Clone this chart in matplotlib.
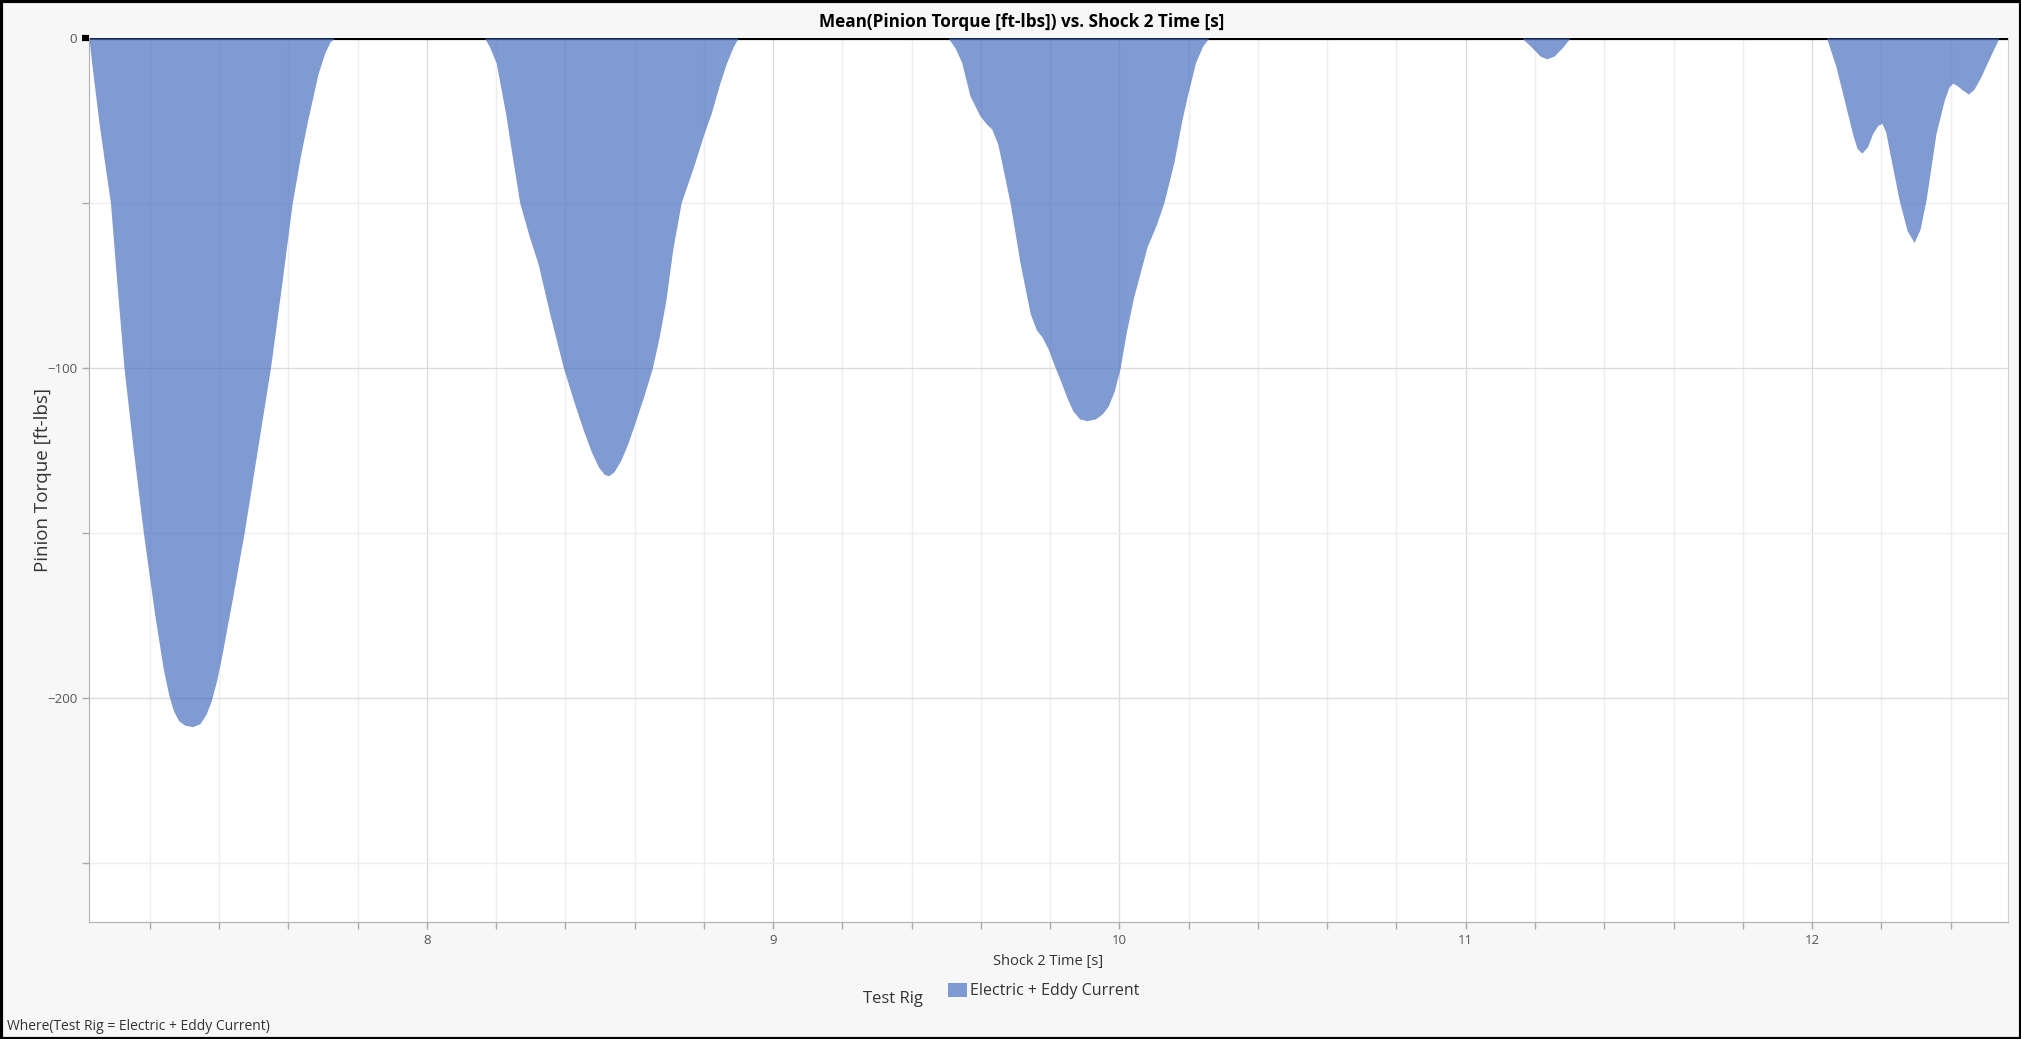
import numpy as np
import matplotlib
matplotlib.use('Agg')
import matplotlib.pyplot as plt
from matplotlib.patches import Patch, Rectangle

plt.rcParams['font.family'] = ['Open Sans', 'DejaVu Sans']

# values (Shock 2 Time [s], Mean Pinion Torque [ft-lbs])
time_s = [
    7.024, 7.030, 7.038, 7.052, 7.068, 7.086, 7.105, 7.125, 7.152, 7.181, 7.214, 7.238,
    7.254, 7.268, 7.283, 7.300, 7.323, 7.345, 7.362, 7.377, 7.392, 7.408, 7.438, 7.472,
    7.510, 7.548, 7.580, 7.611, 7.636, 7.656, 7.685, 7.705, 7.720, 7.733,
    8.166, 8.180, 8.200, 8.227, 8.248, 8.268, 8.295, 8.321, 8.355, 8.394, 8.425, 8.452,
    8.475, 8.495, 8.512, 8.525, 8.540, 8.560, 8.580, 8.598, 8.625, 8.651, 8.670, 8.690,
    8.710, 8.734, 8.773, 8.800, 8.821, 8.845, 8.865, 8.885, 8.899,
    9.505, 9.525, 9.544, 9.568, 9.597, 9.615, 9.631, 9.648, 9.660, 9.684, 9.713, 9.742,
    9.760, 9.776, 9.795, 9.810, 9.830, 9.848, 9.865, 9.885, 9.906, 9.930, 9.950, 9.968,
    9.985, 10.002, 10.020, 10.041, 10.080, 10.105, 10.128, 10.157, 10.180, 10.196, 10.220,
    10.240, 10.258,
    11.162, 11.190, 11.215, 11.234, 11.255, 11.280, 11.301,
    12.042, 12.069, 12.093, 12.117, 12.130, 12.144, 12.160, 12.175, 12.190, 12.202, 12.213,
    12.223, 12.252, 12.275, 12.295, 12.312, 12.329, 12.358, 12.382, 12.395, 12.406, 12.420,
    12.435, 12.452, 12.468, 12.488, 12.515, 12.540, 12.566,
]
torque = [
    0, -6, -13, -25, -37, -50, -75, -100, -125, -150, -175, -191,
    -199, -204, -207, -208.3, -208.8, -207.8, -205, -201, -195, -187, -170, -150,
    -125, -100, -75, -50, -35, -24.7, -11, -4.5, -1.2, 0,
    0, -2.5, -7.6, -22.8, -37, -50, -60, -68.5, -83.8, -100, -110.5, -119,
    -125.5, -130, -132.3, -132.7, -131.5, -128, -123, -117.5, -109, -100, -91, -79.5,
    -64, -50, -38, -29, -22.8, -14, -7.6, -2.5, 0,
    0, -3, -7.3, -17.5, -23.6, -26, -27.6, -32, -37.8, -50, -68.3, -83.5,
    -88.5, -90.6, -94.5, -98.8, -104, -109, -113, -115.5, -116, -115.5, -114, -111.5,
    -107, -100, -89, -78.5, -63.2, -57, -50, -37.8, -25, -17.5, -7.3,
    -2.5, 0,
    0, -2.8, -5.5, -6.3, -5.5, -2.8, 0,
    0, -8.6, -18.8, -29, -33.5, -34.9, -33, -29, -26.5, -25.9, -28.5,
    -34, -49.3, -58.5, -62, -58, -49.3, -29, -18.8, -15, -13.7, -14.5,
    -15.8, -17, -15.5, -11.7, -5.5, 0, 0,
]
x_major = [8, 9, 10, 11, 12]
y_major = [0, -100, -200]
y_minor = [-50, -150, -250]
series_name = 'Electric + Eddy Current'

W, H = 2021, 1039
fig = plt.figure(figsize=(W/100, H/100), dpi=100, facecolor='#f7f7f7')
ax = fig.add_axes([89/W, 1-922/H, (2008-89)/W, (922-38)/H])
ax.set_facecolor('white')

ax.set_xlim(7.024, 12.566)
ax.set_ylim(-268, 0)

ax.set_xticks(x_major)
ax.set_xticks(np.arange(7.2, 12.6, 0.2), minor=True)
ax.set_yticks(y_major)
ax.set_yticks(y_minor, minor=True)
ax.grid(True, which='major', color='#dcdcdc', lw=1.0)
ax.grid(True, which='minor', color='#eeeeee', lw=1.0)
ax.set_axisbelow(True)

ax.tick_params(which='both', colors='#aaaaaa', labelcolor='#555555', labelsize=9.5,
               length=5, width=1)
ax.tick_params(axis='x', pad=4)
for s in ['left', 'bottom', 'right']:
    ax.spines[s].set_color('#b0b0b0')
ax.spines['right'].set_color('#d0d0d0')
ax.spines['top'].set_visible(False)

ax.axhline(0, color='black', lw=2.3, zorder=2)
ax.plot([-0.0035, 0], [0, 0], transform=ax.get_yaxis_transform(), color='black',
        lw=4.5, solid_capstyle='butt', clip_on=False, zorder=3)

ax.fill_between(time_s, torque, 0, color='#4a6fc0', alpha=0.7, lw=0, zorder=3)

ax.set_xlabel('Shock 2 Time [s]', fontsize=10.5, color='#333333', labelpad=5)
ax.set_ylabel('Pinion Torque [ft-lbs]', fontsize=13.5, color='#333333', labelpad=-3.5)

fig.text(1022/W, 1-22/H, 'Mean(Pinion Torque [ft-lbs]) vs. Shock 2 Time [s]',
         ha='center', va='center', fontsize=12.3, fontweight='bold', color='black')

fig.text(863/W, 1-999/H, 'Test Rig', ha='left', va='center', fontsize=12, color='#333333')
fig.legend(handles=[Patch(facecolor='#7f9ad3', edgecolor='none')], labels=[series_name],
           loc='center left', bbox_to_anchor=(948/W, 1-991/H), frameon=False,
           fontsize=11.5, handlelength=1.2, handleheight=0.95, handletextpad=0.2,
           borderpad=0, borderaxespad=0, labelcolor='#333333')

fig.text(7/W, 1-1027/H, 'Where(Test Rig = Electric + Eddy Current)', ha='left', va='center',
         fontsize=10, color='#333333')

fig.patches.append(Rectangle((0.5/W, 0.5/H), 1-1/W, 1-1/H, transform=fig.transFigure,
                             fill=False, edgecolor='black', lw=3))

fig.savefig('out.png', dpi=100, facecolor=fig.get_facecolor())
